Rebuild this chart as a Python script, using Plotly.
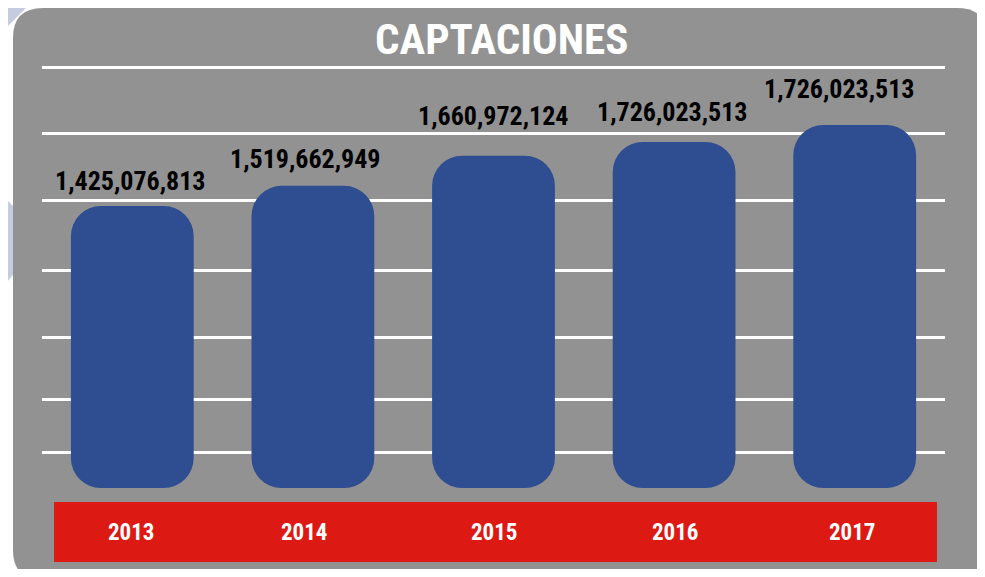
import plotly.graph_objects as go

# ---- data ----
years = ["2013", "2014", "2015", "2016", "2017"]
bar_values = [1425076813, 1519662949, 1660972124, 1726023513, 1806000000]
value_labels = ["1,425,076,813", "1,519,662,949", "1,660,972,124", "1,726,023,513", "1,726,023,513"]
title_text = "CAPTACIONES"

# ---- geometry (reference pixels; page body has an 8px margin) ----
OFF = 8
W, H = 977, 561
PLOT_L, PLOT_R, PLOT_T, PLOT_B = 42, 945, 60, 500       # reference pixel box of the plot area
ML, MR, MT = PLOT_L - OFF, W - (PLOT_R - OFF), PLOT_T - OFF
MB = H - (PLOT_B - OFF)
PW, PH = PLOT_R - PLOT_L, PLOT_B - PLOT_T
PX_PER_UNIT = 0.2127e-6          # pixels per unit of value
BASE = 99.2e6                    # value at the bottom of the bars (ref pixel 488)
Y_LO = BASE - (PLOT_B - 488) / PX_PER_UNIT
Y_HI = Y_LO + PH / PX_PER_UNIT
GRID_VALUES = [BASE + (488 - p) / PX_PER_UNIT for p in (452, 399, 337, 270, 200, 133, 67)]

FONT = "Roboto Condensed, Liberation Sans Narrow, DejaVu Sans Condensed, sans-serif"
BAR_COLOR = "#2F4E91"
GRAY = "#929292"
RED = "#DC1913"
LAV = "#C5CCE0"


def px(x):
    return (x - PLOT_L) / PW


def py(y):
    return (PLOT_B - y) / PH


def path(points):
    return "M " + " L ".join(f"{px(x)},{py(y)}" for x, y in points) + " Z"


def rounded_rect(x0, y0, x1, y1, r):
    return (f"M {px(x0 + r)},{py(y0)} L {px(x1 - r)},{py(y0)} "
            f"Q {px(x1)},{py(y0)} {px(x1)},{py(y0 + r)} "
            f"L {px(x1)},{py(y1 - r)} Q {px(x1)},{py(y1)} {px(x1 - r)},{py(y1)} "
            f"L {px(x0 + r)},{py(y1)} Q {px(x0)},{py(y1)} {px(x0)},{py(y1 - r)} "
            f"L {px(x0)},{py(y0 + r)} Q {px(x0)},{py(y0)} {px(x0 + r)},{py(y0)} Z")


fig = go.Figure()
fig.add_trace(go.Bar(
    x=years, y=[v - BASE for v in bar_values], base=[BASE] * len(years),
    marker=dict(color=BAR_COLOR, line=dict(width=0)), width=0.68, hoverinfo="skip"))

shapes = [
    dict(type="path", xref="paper", yref="paper", path=path([(0, 0), (34, 0), (0, 34)]),
         fillcolor=LAV, line=dict(width=0), layer="below"),
    dict(type="path", xref="paper", yref="paper", path=path([(178, 0), (230, 0), (204, 26)]),
         fillcolor=LAV, line=dict(width=0), layer="below"),
    dict(type="path", xref="paper", yref="paper", path=path([(0, 193), (45, 238), (0, 290)]),
         fillcolor=LAV, line=dict(width=0), layer="below"),
    dict(type="path", xref="paper", yref="paper", path=rounded_rect(13, 8, 987, 580, 30),
         fillcolor=GRAY, line=dict(width=0), layer="below"),
    dict(type="rect", xref="paper", yref="paper", x0=px(54), x1=px(937), y0=py(502), y1=py(562),
         fillcolor=RED, line=dict(width=0), layer="below"),
]

label_dx = [-2, -8, -1, -2, -16]
label_dy = [8, 10, 23, 13, 19]
annotations = []
for i, (v, t) in enumerate(zip(bar_values, value_labels)):
    annotations.append(dict(x=i, y=v, text=f"<b>{t}</b>", showarrow=False,
                            xanchor="center", yanchor="bottom",
                            xshift=label_dx[i], yshift=label_dy[i],
                            font=dict(family=FONT, size=26, color="black")))
year_dx = [-1, -8, 1, 1, -2]
for i, yr in enumerate(years):
    annotations.append(dict(x=i, y=py(532), yref="paper", text=f"<b>{yr}</b>", showarrow=False,
                            xanchor="center", yanchor="middle", xshift=year_dx[i],
                            font=dict(family=FONT, size=23, color="white")))
annotations.append(dict(x=px(501), y=py(39), xref="paper", yref="paper", text=f"<b>{title_text}</b>",
                        showarrow=False, xanchor="center", yanchor="middle",
                        font=dict(family=FONT, size=43, color="white")))

fig.update_layout(
    width=W, height=H, margin=dict(l=ML, r=MR, t=MT, b=MB, pad=0),
    paper_bgcolor="white", plot_bgcolor="rgba(0,0,0,0)",
    barcornerradius=30, showlegend=False,
    shapes=shapes, annotations=annotations,
    xaxis=dict(type="category", range=[-0.5, 4.5], showticklabels=False, showgrid=False,
               zeroline=False, showline=False, fixedrange=True),
    yaxis=dict(range=[Y_LO, Y_HI], tickvals=GRID_VALUES, showticklabels=False, showgrid=True,
               gridcolor="white", gridwidth=2.5, zeroline=False, showline=False, fixedrange=True),
)
fig.write_html("out.html", config={"displayModeBar": False})
